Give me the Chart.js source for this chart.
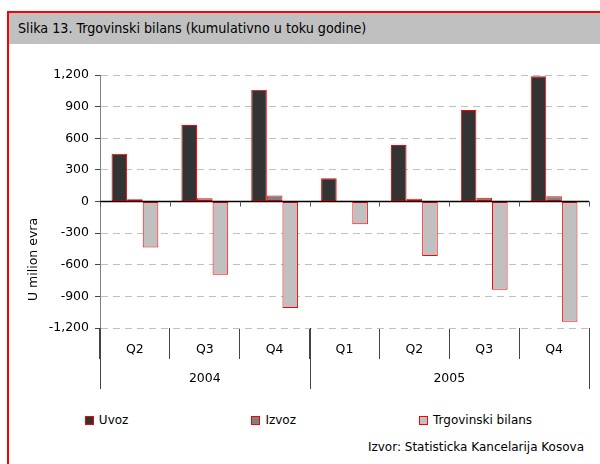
<!DOCTYPE html>
<html>
<head>
<meta charset="utf-8">
<script src="https://cdn.jsdelivr.net/npm/chart.js@4"></script>
<style>
  html, body { margin: 0; padding: 0; width: 600px; height: 464px; overflow: hidden; background: #fff; }
  body { position: relative; font-family: "DejaVu Sans", sans-serif; }
  #frame { position: absolute; left: 7px; top: 11px; width: 640px; height: 500px; border: 2px solid #ff0000; box-sizing: border-box; }
  #titleband { position: absolute; left: 9px; top: 13px; width: 640px; height: 31px; background: #c0c0c0; }
  #title { position: absolute; left: 18px; top: 13px; height: 31px; line-height: 31px; font-size: 14.2px; color: #000; white-space: nowrap; font-family: "DejaVu Sans Condensed", "DejaVu Sans", sans-serif; }
  #wrap { position: absolute; left: 0; top: 45px; width: 619px; height: 345px; }
  #legend { position: absolute; left: -1px; top: 413px; width: 619px; display: flex; justify-content: center; gap: 123px; font-size: 12px; color: #000; }
  .li { display: flex; align-items: center; white-space: nowrap; }
  .mk { width: 9px; height: 9px; box-sizing: border-box; border: 1px solid #ff0000; margin-right: 5px; }
  #source { position: absolute; right: 16px; top: 440px; font-size: 12px; color: #000; white-space: nowrap; }
</style>
</head>
<body>
<div id="frame"></div>
<div id="titleband"></div>
<div id="title">Slika 13. Trgovinski bilans (kumulativno u toku godine)</div>
<div id="wrap"><canvas id="c"></canvas></div>
<div id="legend"></div>
<div id="source">Izvor: Statisticka Kancelarija Kosova</div>
<script>
// ---- data ----
const quarters = ['Q2', 'Q3', 'Q4', 'Q1', 'Q2', 'Q3', 'Q4'];
const years = ['2004', '2005'];
const yearSpans = [3, 4];
const uvoz = [452, 725, 1060, 221, 535, 867, 1188];
const izvoz = [22, 30, 57, 8, 25, 35, 50];
const bilans = [-437, -694, -1011, -215, -517, -836, -1140];
const seriesNames = ['Uvoz', 'Izvoz', 'Trgovinski bilans'];
const seriesColors = ['#333333', '#808080', '#c0c0c0'];
const yTicks = [-1200, -900, -600, -300, 0, 300, 600, 900, 1200];
const yTitle = 'U milion evra';

const FONT = { family: '"DejaVu Sans", sans-serif', size: 12.5 };

const extras = {
  id: 'extras',
  afterDraw(chart) {
    const { ctx, chartArea } = chart;
    const x = chart.scales.x, y = chart.scales.y;
    const half = (x.getPixelForValue(1) - x.getPixelForValue(0)) / 2;
    const y0 = y.getPixelForValue(0);
    ctx.save();
    // zero line
    ctx.strokeStyle = '#000';
    ctx.lineWidth = 1.5;
    ctx.beginPath();
    ctx.moveTo(chartArea.left, y0);
    ctx.lineTo(chartArea.right, y0);
    ctx.stroke();
    // small tick marks on zero line
    ctx.strokeStyle = '#555';
    ctx.lineWidth = 1;
    for (let i = 0; i <= quarters.length; i++) {
      const px = Math.round(x.getPixelForValue(i) - half) + 0.5;
      ctx.beginPath();
      ctx.moveTo(px, y0);
      ctx.lineTo(px, y0 + 5);
      ctx.stroke();
    }
    // year level separators & labels
    let idx = 0;
    const top = chartArea.bottom;
    const bot = chartArea.bottom + 61;
    ctx.fillStyle = '#000';
    ctx.font = '12.5px ' + FONT.family;
    ctx.textAlign = 'center';
    ctx.textBaseline = 'middle';
    const drawSep = (i) => {
      const px = Math.round(x.getPixelForValue(i) - half) + 0.5;
      ctx.beginPath();
      ctx.moveTo(px, top);
      ctx.lineTo(px, bot);
      ctx.stroke();
      return px;
    };
    ctx.strokeStyle = '#444';
    drawSep(0);
    for (let k = 0; k < years.length; k++) {
      const a = x.getPixelForValue(idx) - half;
      idx += yearSpans[k];
      const b = x.getPixelForValue(idx) - half;
      drawSep(idx);
      ctx.fillText(years[k], (a + b) / 2, chartArea.bottom + 51);
    }
    // y axis title
    ctx.save();
    ctx.translate(34, y.getPixelForValue(-550));
    ctx.rotate(-Math.PI / 2);
    ctx.fillText(yTitle, 0, 0);
    ctx.restore();
    ctx.restore();
  }
};

const chart = new Chart(document.getElementById('c'), {
  type: 'bar',
  data: {
    labels: quarters,
    datasets: [
      { label: seriesNames[0], data: uvoz, backgroundColor: seriesColors[0] },
      { label: seriesNames[1], data: izvoz, backgroundColor: seriesColors[1] },
      { label: seriesNames[2], data: bilans, backgroundColor: seriesColors[2] }
    ].map(d => Object.assign(d, { borderColor: '#ff0000', borderWidth: 1, borderSkipped: false, barPercentage: 1, categoryPercentage: 0.67 }))
  },
  options: {
    responsive: true,
    maintainAspectRatio: false,
    animation: false,
    layout: { padding: { left: 0, right: 30, top: 30, bottom: 0 } },
    plugins: { legend: { display: false }, tooltip: { enabled: false } },
    scales: {
      x: {
        offset: true,
        afterFit(s) { s.height = 62; },
        grid: { display: true, offset: true, drawOnChartArea: false, drawTicks: true, tickLength: 31, tickColor: '#444', color: '#444' },
        border: { display: false },
        ticks: { padding: -17, color: '#000', font: FONT, maxRotation: 0, autoSkip: false }
      },
      y: {
        min: -1200, max: 1200,
        afterFit(s) { s.width = 100; },
        afterBuildTicks(s) { s.ticks = yTicks.map(v => ({ value: v })); },
        grid: { color: (c) => c.tick && c.tick.value === 0 ? 'rgba(0,0,0,0)' : '#c0c0c0', tickColor: '#444', tickLength: 5, lineWidth: 1 },
        border: { display: true, color: '#808080', width: 1, dash: [7, 5] },
        ticks: { padding: 6, color: '#000', font: FONT, callback: (v) => v.toLocaleString('en-US') }
      }
    }
  },
  plugins: [extras]
});

// HTML legend from datasets
const lg = document.getElementById('legend');
chart.data.datasets.forEach(ds => {
  const it = document.createElement('div'); it.className = 'li';
  const mk = document.createElement('span'); mk.className = 'mk'; mk.style.background = ds.backgroundColor;
  const tx = document.createElement('span'); tx.textContent = ds.label;
  it.appendChild(mk); it.appendChild(tx); lg.appendChild(it);
});
</script>
</body>
</html>
